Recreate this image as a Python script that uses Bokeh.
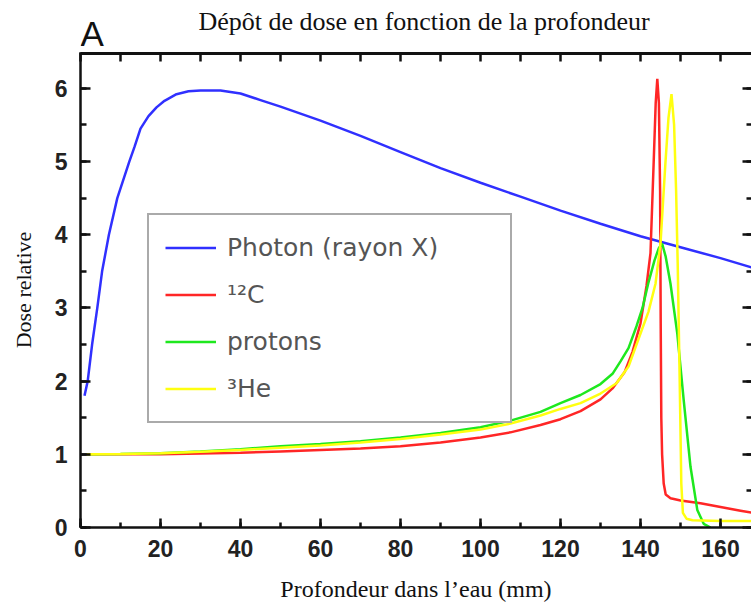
from bokeh.plotting import figure
from bokeh.layouts import column
from bokeh.models import (Range1d, LinearAxis, SingleIntervalTicker, Legend, LegendItem, Label)
from bokeh.embed import file_html
from bokeh.resources import INLINE

# ---- data ----
photon_x = [1.0, 1.8, 2.9, 4.2, 5.4, 7.1, 9.2, 12.2, 13.5, 15, 17, 19, 21, 24, 27, 30, 35, 40, 45, 50,
            60, 70, 80, 90, 100, 110, 120, 130, 140, 150, 160, 168]
photon_y = [1.8, 2.0, 2.5, 3.0, 3.5, 4.0, 4.5, 5.0, 5.2, 5.45, 5.62, 5.74, 5.83, 5.92, 5.96, 5.97,
            5.97, 5.93, 5.84, 5.75, 5.56, 5.35, 5.13, 4.91, 4.71, 4.52, 4.33, 4.15, 3.98, 3.83,
            3.68, 3.55]

carbon_x = [1.5, 10, 20, 30, 40, 50, 60, 70, 80, 90, 100, 107.5, 115, 120, 125, 130, 133, 136, 138,
            140, 141.5, 142.5, 143.3, 143.8, 144.2, 144.6, 144.9, 145.05, 145.2, 145.4, 145.8, 146.3,
            147.5, 150, 155, 160, 165, 168]
carbon_y = [1.0, 1.0, 1.0, 1.01, 1.02, 1.04, 1.06, 1.08, 1.11, 1.16, 1.23, 1.30, 1.40, 1.48, 1.59,
            1.75, 1.9, 2.12, 2.4, 2.79, 3.3, 3.75, 5.0, 5.8, 6.13, 5.8, 4.6, 2.8, 1.5, 1.0, 0.6, 0.45,
            0.40, 0.37, 0.33, 0.28, 0.23, 0.20]

proton_x = [1.5, 10, 20, 30, 40, 50, 60, 70, 80, 90, 100, 107.5, 115, 120, 125, 130, 133, 135, 137,
            139, 140.5, 142, 143.5, 144.6, 145.4, 146.3, 147.5, 149.2, 150.8, 152.5, 154.2, 155.8, 157.5]
proton_y = [1.0, 1.005, 1.015, 1.04, 1.07, 1.11, 1.14, 1.18, 1.23, 1.29, 1.37, 1.46, 1.58, 1.70, 1.81,
            1.96, 2.1, 2.27, 2.45, 2.75, 3.0, 3.35, 3.65, 3.82, 3.88, 3.7, 3.33, 2.65, 1.74, 0.83,
            0.24, 0.05, 0.0]

helium_x = [1.5, 10, 20, 30, 40, 50, 60, 70, 80, 90, 100, 107.5, 115, 120, 125, 130, 134, 137, 140,
            142, 143.75, 145, 146.25, 147, 147.75, 148.4, 148.9, 149.3, 149.8, 150.2, 150.6, 151.5,
            153, 160, 168]
helium_y = [1.0, 1.005, 1.015, 1.035, 1.06, 1.09, 1.12, 1.16, 1.21, 1.27, 1.34, 1.42, 1.53, 1.62,
            1.70, 1.83, 1.97, 2.2, 2.65, 2.95, 3.33, 3.88, 5.0, 5.6, 5.92, 5.5, 4.6, 3.6, 2.0, 0.6,
            0.2, 0.12, 0.10, 0.09, 0.09]

labels = ["Photon (rayon X)", "\u00b9\u00b2C", "protons", "\u00b3He"]
colors = ["#3030ff", "#ff2626", "#1ee81e", "#ffff10"]

title_text = "Dépôt de dose en fonction de la profondeur"
panel_letter = "A"
x_label = "Profondeur dans l\u2019eau (mm)"
y_label = "Dose relative"

SERIF = "Liberation Serif"
SANS = "Liberation Sans"

# ---- header strip: title and panel letter ----
head = figure(width=751, height=52, output_backend="svg", toolbar_location=None, title=None,
              x_range=Range1d(0, 1), y_range=Range1d(0, 1),
              x_axis_location=None, y_axis_location=None,
              min_border_left=80, min_border_right=0, min_border_top=0, min_border_bottom=0)
head.outline_line_color = None
head.grid.visible = False
head.background_fill_color = "white"
head.border_fill_color = "white"
head.add_layout(Label(x=343.5, y=31, x_units="screen", y_units="screen", text=title_text,
                      text_font=SERIF, text_font_size="26px", text_color="#111111",
                      text_align="center", text_baseline="alphabetic"))
head.add_layout(Label(x=0, y=0, x_units="screen", y_units="screen", text=panel_letter,
                      text_font=SANS, text_font_size="35px", text_color="#111111",
                      text_align="left", text_baseline="bottom"))

# ---- main chart ----
p = figure(width=751, height=552, output_backend="svg", toolbar_location=None,
           x_range=Range1d(0, 167.75), y_range=Range1d(0, 6.49),
           x_axis_location=None, y_axis_location=None,
           min_border_left=80, min_border_right=0, min_border_top=0, min_border_bottom=77)
p.outline_line_color = None
p.xgrid.visible = False
p.ygrid.visible = False
p.background_fill_color = "white"
p.border_fill_color = "white"

def style_axis(ax, show_labels, major_in, minor_in):
    ax.axis_line_width = 2.5
    ax.axis_line_color = "#111111"
    ax.major_tick_in = major_in
    ax.major_tick_out = 0
    ax.minor_tick_in = minor_in
    ax.minor_tick_out = 0
    ax.major_tick_line_width = 2.5
    ax.minor_tick_line_width = 2.5
    ax.major_tick_line_color = "#111111"
    ax.minor_tick_line_color = "#111111"
    if show_labels:
        ax.major_label_text_font = SANS
        ax.major_label_text_font_style = "bold"
        ax.major_label_text_font_size = "23px"
        ax.major_label_text_color = "#222222"
    else:
        ax.major_label_text_font_size = "0px"
        ax.major_label_text_color = None
        ax.major_label_standoff = 0

bottom = LinearAxis(ticker=SingleIntervalTicker(interval=20, num_minor_ticks=2))
style_axis(bottom, True, 9, 5)
bottom.major_label_standoff = 12
bottom.axis_label = x_label
bottom.axis_label_text_font = SERIF
bottom.axis_label_text_font_style = "normal"
bottom.axis_label_text_font_size = "24px"
bottom.axis_label_text_color = "#111111"
bottom.axis_label_standoff = 16
p.add_layout(bottom, "below")

left = LinearAxis(ticker=SingleIntervalTicker(interval=1, num_minor_ticks=2))
style_axis(left, True, 10, 6)
left.major_label_standoff = 13
left.axis_label = y_label
left.axis_label_text_font = SERIF
left.axis_label_text_font_style = "normal"
left.axis_label_text_font_size = "22px"
left.axis_label_text_color = "#111111"
left.axis_label_standoff = 16
p.add_layout(left, "left")

top = LinearAxis(ticker=SingleIntervalTicker(interval=10, num_minor_ticks=0))
style_axis(top, False, 9, 0)
top.axis_line_width = 5  # only the lower half falls inside the canvas
p.add_layout(top, "above")

right = LinearAxis(ticker=SingleIntervalTicker(interval=1, num_minor_ticks=2))
style_axis(right, False, 9, 5)
right.axis_line_color = None
p.add_layout(right, "right")

r_photon = p.line(photon_x, photon_y, line_color=colors[0], line_width=2.5)
r_carbon = p.line(carbon_x, carbon_y, line_color=colors[1], line_width=2.5)
r_proton = p.line(proton_x, proton_y, line_color=colors[2], line_width=2.5)
r_helium = p.line(helium_x, helium_y, line_color=colors[3], line_width=2.5)

legend = Legend(items=[LegendItem(label=labels[0], renderers=[r_photon]),
                       LegendItem(label=labels[1], renderers=[r_carbon]),
                       LegendItem(label=labels[2], renderers=[r_proton]),
                       LegendItem(label=labels[3], renderers=[r_helium])],
                location=(67, 104), orientation="vertical",
                padding=16, spacing=14, margin=0,
                glyph_width=51, glyph_height=33, label_height=33, label_width=267,
                label_standoff=11,
                label_text_font="DejaVu Sans", label_text_font_size="25px",
                label_text_color="#555555",
                border_line_color="#555555", border_line_width=2,
                background_fill_color="white", background_fill_alpha=1.0)
p.add_layout(legend, "center")

page = column(head, p, spacing=0)
open("out.html", "w").write(file_html(page, INLINE))
